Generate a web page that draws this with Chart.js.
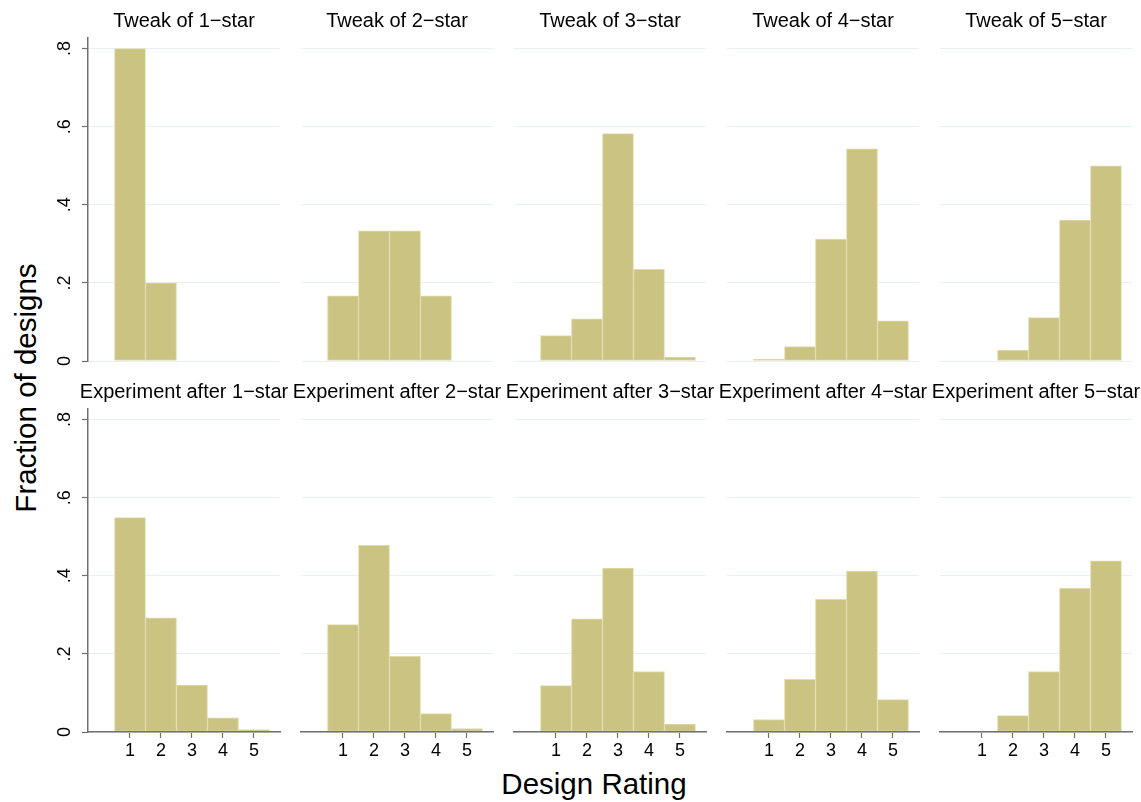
<!DOCTYPE html>
<html>
<head>
<meta charset="utf-8">
<script src="https://cdn.jsdelivr.net/npm/chart.js@4.4.1/dist/chart.umd.min.js"></script>
<style>
  html, body { margin: 0; padding: 0; background: #fff; }
  #page { position: relative; width: 1141px; height: 802px; overflow: hidden; font-family: 'Liberation Sans', Arial, sans-serif; }
  #page canvas { position: absolute; }
  .axis-title { position: absolute; font-size: 29.5px; line-height: 1; white-space: nowrap; color: #000; }
</style>
</head>
<body>
<div id="page">
  <div class="axis-title" style="left:26px; top:388px; transform: translate(-50%, -50%) rotate(-90deg);">Fraction of designs</div>
  <div class="axis-title" style="left:594px; top:784px; transform: translate(-50%, -50%);">Design Rating</div>
</div>
<script>
// Rating categories and y tick labels
const ratings = [1, 2, 3, 4, 5];
const yTicks = [0, 0.2, 0.4, 0.6, 0.8];
const yTickLabels = ['0', '.2', '.4', '.6', '.8'];

// Panel titles
const tweakTitles = ['Tweak of 1\u2212star', 'Tweak of 2\u2212star', 'Tweak of 3\u2212star', 'Tweak of 4\u2212star', 'Tweak of 5\u2212star'];
const experimentTitles = ['Experiment after 1\u2212star', 'Experiment after 2\u2212star', 'Experiment after 3\u2212star', 'Experiment after 4\u2212star', 'Experiment after 5\u2212star'];

// Fraction of designs at each rating (1..5)
const tweak1Star = [0.800, 0.200, 0, 0, 0];
const tweak2Star = [0.167, 0.333, 0.333, 0.167, 0];
const tweak3Star = [0.065, 0.108, 0.582, 0.235, 0.010];
const tweak4Star = [0.005, 0.037, 0.312, 0.543, 0.103];
const tweak5Star = [0, 0.028, 0.111, 0.361, 0.500];

const experiment1Star = [0.549, 0.292, 0.120, 0.036, 0.006];
const experiment2Star = [0.275, 0.478, 0.194, 0.047, 0.009];
const experiment3Star = [0.119, 0.290, 0.420, 0.155, 0.020];
const experiment4Star = [0.032, 0.135, 0.340, 0.412, 0.083];
const experiment5Star = [0, 0.042, 0.155, 0.368, 0.438];

const tweakRows = [tweak1Star, tweak2Star, tweak3Star, tweak4Star, tweak5Star];
const experimentRows = [experiment1Star, experiment2Star, experiment3Star, experiment4Star, experiment5Star];

// Layout and style
const PLOT_LEFT0 = 88, COL_STEP = 213, PLOT_W = 192, SIDE = 50;
const ROW_TOP = [0, 371];
const X_MIN = -0.355, X_MAX = 5.84, Y_MAX = 0.827;
const BAR_FILL = '#cbc381';
const BAR_EDGE = '#e0dbab';
const GRID_COLOR = '#e8f0f2';
const AXIS_COLOR = '#707070';
const TICK_FONT = 18;

Chart.defaults.font.family = "'Liberation Sans', Arial, sans-serif";

const page = document.getElementById('page');

function makePanel(row, col, title, values) {
  const isTop = row === 0;
  const canvas = document.createElement('canvas');
  const width = PLOT_W + 2 * SIDE;
  const height = isTop ? 385 : 391;
  canvas.width = width;
  canvas.height = height;
  canvas.style.left = (PLOT_LEFT0 + col * COL_STEP - SIDE) + 'px';
  canvas.style.top = ROW_TOP[row] + 'px';
  canvas.style.width = width + 'px';
  canvas.style.height = height + 'px';
  page.appendChild(canvas);

  new Chart(canvas, {
    type: 'bar',
    data: {
      datasets: [{
        data: ratings.map((r, i) => ({ x: r, y: values[i] })),
        backgroundColor: BAR_FILL,
        borderColor: BAR_EDGE,
        borderWidth: 1,
        borderSkipped: false,
        barPercentage: 1,
        categoryPercentage: 1,
        xAxisID: 'x',
        yAxisID: 'y'
      }]
    },
    options: {
      responsive: false,
      devicePixelRatio: 1,
      animation: false,
      events: [],
      layout: { padding: { left: 0, right: 0, top: 0, bottom: isTop ? 24 : 0 } },
      plugins: {
        legend: { display: false },
        tooltip: { enabled: false },
        title: {
          display: true,
          text: title,
          color: '#000',
          font: { size: 20, weight: 'normal', lineHeight: 1.2 },
          padding: { top: 9.7, bottom: 4.3 }
        }
      },
      scales: {
        x: {
          type: 'linear',
          min: X_MIN,
          max: X_MAX,
          offset: false,
          display: !isTop,
          afterBuildTicks: s => { s.ticks = ratings.map(v => ({ value: v })); },
          afterFit: s => { if (!isTop) s.height = 30; },
          grid: { offset: false, drawOnChartArea: false, drawTicks: true, tickLength: 6, tickColor: AXIS_COLOR, tickWidth: 1.2 },
          border: { display: true, color: AXIS_COLOR, width: 1.5, z: 1 },
          ticks: { color: '#000', font: { size: TICK_FONT }, padding: 2, maxRotation: 0, autoSkip: false, callback: v => String(v) }
        },
        y: {
          position: 'left',
          min: 0,
          max: Y_MAX,
          afterBuildTicks: s => { s.ticks = yTicks.map(v => ({ value: v })); },
          afterFit: s => { s.width = SIDE; },
          grid: { color: GRID_COLOR, lineWidth: 1, drawTicks: col === 0, tickLength: 6, tickColor: AXIS_COLOR, tickWidth: 1.2 },
          border: { display: col === 0, color: AXIS_COLOR, width: 1.5, z: 1 },
          ticks: {
            display: col === 0,
            color: '#000',
            font: { size: TICK_FONT },
            padding: 9.5,
            minRotation: 90,
            maxRotation: 90,
            crossAlign: 'center',
            autoSkip: false,
            callback: (v, i) => yTickLabels[i]
          }
        },
        // empty right-hand margin so the plot sits centred under its title
        yMargin: {
          position: 'right',
          display: true,
          grid: { display: false },
          border: { display: false },
          ticks: { display: false },
          afterFit: s => { s.width = SIDE; }
        }
      }
    }
  });
}

for (let c = 0; c < 5; c++) {
  makePanel(0, c, tweakTitles[c], tweakRows[c]);
  makePanel(1, c, experimentTitles[c], experimentRows[c]);
}
</script>
</body>
</html>
